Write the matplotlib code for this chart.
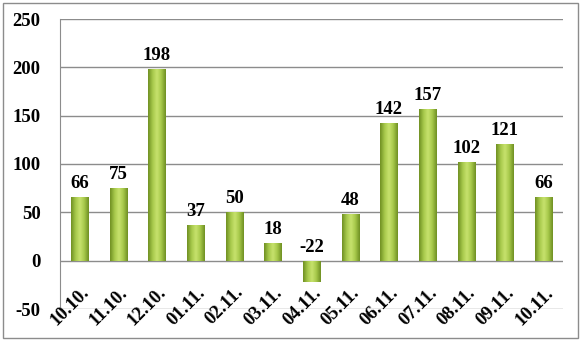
import numpy as np
import matplotlib.pyplot as plt
from matplotlib.colors import LinearSegmentedColormap
from matplotlib.patches import Rectangle

dates = ['10.10.', '11.10.', '12.10.', '01.11.', '02.11.', '03.11.', '04.11.',
         '05.11.', '06.11.', '07.11.', '08.11.', '09.11.', '10.11.']
values = [66, 75, 198, 37, 50, 18, -22, 48, 142, 157, 102, 121, 66]

plt.rcParams['font.family'] = ['Liberation Serif', 'DejaVu Serif']
plt.rcParams['font.weight'] = 'bold'
plt.rcParams['axes.unicode_minus'] = False

W, H = 581, 341
fig = plt.figure(figsize=(W/100, H/100), dpi=100)
ax = fig.add_axes([60/W, 1 - 309/H, (563-60)/W, (309-19)/H])

x = np.arange(len(values))
bars = ax.bar(x, values, width=0.44, color='none', edgecolor='none', zorder=3)

# horizontal gradient inside each bar: dark edges, light middle
cmap = LinearSegmentedColormap.from_list('g', ['#6f8f22', '#a6c84a', '#c8e26e', '#a6c84a', '#6f8f22'])
grad = np.linspace(0, 1, 64).reshape(1, -1)
for b in bars:
    x0, y0 = b.get_x(), b.get_y()
    w, h = b.get_width(), b.get_height()
    im = ax.imshow(grad, cmap=cmap, aspect='auto', zorder=3,
                   extent=[x0, x0 + w, y0, y0 + h], interpolation='bicubic')
    im.set_clip_path(b)

for xi, v in zip(x, values):
    ax.annotate(str(v), (xi, max(v, 0)), xytext=(0, 6.5), textcoords='offset points',
                ha='center', va='baseline', fontsize=13.5, fontweight='bold', zorder=4)

for xi, d in zip(x, dates):
    ax.text(xi + 0.02, -24, d, rotation=45, rotation_mode='anchor',
            ha='right', va='top', fontsize=13.5, fontweight='bold')

ax.set_xlim(-0.5, len(values) - 0.5)
ax.set_ylim(-50, 250)
ax.set_yticks(range(-50, 251, 50))
ax.set_xticks([])
ax.grid(axis='y', color='#8c8c8c', lw=1, zorder=1)
ax.set_axisbelow(True)
for s in ['top', 'right', 'bottom']:
    ax.spines[s].set_visible(False)
ax.spines['left'].set_color('#8c8c8c')
ax.tick_params(axis='y', length=0, pad=14, labelsize=13.5)
for t in ax.get_yticklabels():
    t.set_fontweight('bold')

fig.patches.append(Rectangle((3/W, 3/H), 575/W, 335/H, transform=fig.transFigure,
                             fill=False, edgecolor='#8c8c8c', lw=1))

plt.savefig('out.png', dpi=100)
